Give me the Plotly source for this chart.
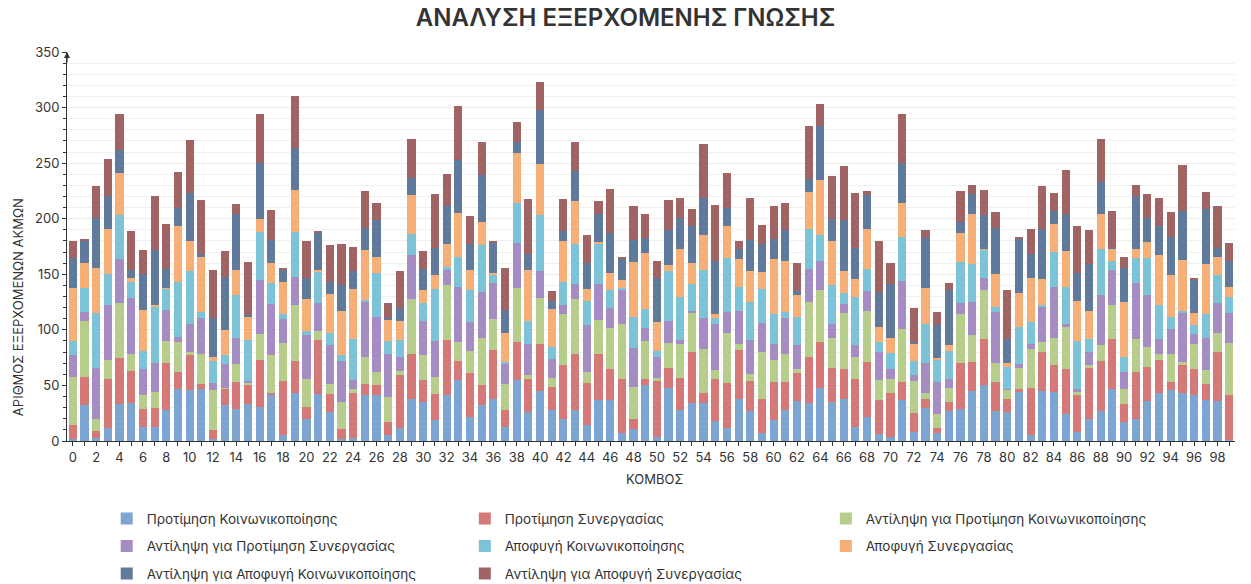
import plotly.graph_objects as go

nodes = list(range(100))
x_tick_labels = [str(i) if i % 2 == 0 else "" for i in nodes]

series_names = [
    "Προτίμηση Κοινωνικοποίησης",
    "Προτίμηση Συνεργασίας",
    "Αντίληψη για Προτίμηση Κοινωνικοποίησης",
    "Αντίληψη για Προτίμηση Συνεργασίας",
    "Αποφυγή Κοινωνικοποίησης",
    "Αποφυγή Συνεργασίας",
    "Αντίληψη για Αποφυγή Κοινωνικοποίησης",
    "Αντίληψη για Αποφυγή Συνεργασίας",
]

pref_social = [2,32,3,12,33,34,13,13,28,47,
               46,47,2,32,29,33,31,41,5,43,
               20,42,26,2,3,41,41,5,12,38,
               35,19,41,55,22,32,38,13,55,26,
               45,28,20,28,14,37,37,7,11,50,
               4,48,28,34,34,18,12,38,27,7,
               19,28,36,34,48,35,38,13,22,6,
               4,37,8,30,7,27,29,45,50,27,
               26,44,5,45,44,24,8,20,27,47,
               17,20,36,43,46,43,41,37,36,1]
pref_coop = [12,26,6,44,42,29,16,17,42,15,
             31,4,8,15,24,17,42,2,49,29,
             11,49,16,9,40,10,9,12,47,40,
             20,23,50,17,39,18,44,15,34,30,
             42,21,48,50,38,41,28,49,9,6,
             50,18,29,46,9,38,40,44,27,31,
             34,25,25,42,41,31,27,43,49,31,
             39,16,17,8,5,8,41,26,42,26,
             12,3,43,35,24,41,33,46,45,45,
             16,42,31,30,7,25,24,14,44,40]
perc_pref_social = [44,50,11,17,49,15,12,14,20,27,
                    3,27,36,1,16,2,23,34,34,50,
                    25,8,9,24,4,25,12,23,4,50,
                    22,16,49,17,20,43,28,23,49,3,
                    42,8,46,50,10,31,37,49,29,34,
                    3,22,30,35,40,8,45,5,6,42,
                    20,25,4,49,47,27,50,20,46,18,
                    13,48,29,5,12,13,44,24,44,17,
                    8,19,35,9,25,38,3,2,14,30,
                    14,30,18,5,25,3,22,13,17,47]
perc_pref_coop = [19,8,46,49,40,51,24,26,28,5,
                  25,33,6,21,24,2,49,46,22,26,
                  39,25,35,37,8,49,50,38,13,39,
                  31,32,14,50,26,41,32,18,40,28,
                  24,17,8,13,42,32,18,31,35,12,
                  19,20,4,2,28,41,19,30,31,26,
                  14,33,21,30,26,12,8,10,18,25,
                  9,43,5,27,29,8,10,30,11,46,
                  1,3,4,32,46,2,3,12,45,32,
                  15,50,46,14,23,44,9,29,27,27]
avoid_social = [13,22,49,28,39,14,16,51,19,49,
                48,5,20,8,38,37,43,19,4,40,
                4,28,11,5,37,2,39,12,15,19,
                16,47,3,27,29,42,7,2,36,21,
                50,11,21,36,22,36,16,2,28,17,
                5,45,39,24,43,6,49,22,34,31,
                27,5,26,36,23,35,10,44,20,9,
                14,40,13,35,20,25,37,34,25,5,
                20,34,20,1,31,34,43,12,42,8,
                14,23,34,30,11,2,8,21,25,15]
avoid_coop = [48,22,41,41,38,4,37,1,1,50,
              27,50,4,23,23,21,12,18,29,38,
              29,2,35,40,45,45,15,19,17,35,
              12,12,20,39,18,21,2,26,45,46,
              46,34,37,39,11,2,15,7,49,50,
              26,5,43,19,31,3,28,25,28,15,
              50,46,19,33,50,40,20,16,36,14,
              14,30,16,33,2,5,26,45,1,29,
              3,30,40,24,25,32,36,25,31,11,
              49,8,14,45,37,46,11,45,17,9]
perc_avoid_social = [27,20,45,29,21,7,32,50,17,17,
                     43,2,35,48,50,1,50,21,11,38,
                     19,34,11,23,16,20,33,2,12,16,
                     19,25,34,48,23,42,27,21,10,14,
                     49,7,9,27,23,25,36,19,20,14,
                     40,32,28,33,34,48,17,9,28,25,
                     18,28,4,12,48,20,46,28,30,31,
                     48,36,1,45,29,50,10,18,30,42,
                     22,49,21,45,12,33,25,42,29,1,
                     31,47,22,26,35,44,30,50,8,23]
perc_avoid_coop = [15,1,28,34,32,35,22,48,40,32,
                   48,49,43,23,9,48,44,27,2,46,
                   33,1,33,37,22,33,15,13,33,35,
                   16,48,29,48,25,30,2,38,18,50,
                   25,9,29,26,25,12,40,2,30,21,
                   15,27,18,16,48,50,31,7,38,17,
                   29,24,25,47,20,38,48,49,4,46,
                   19,44,31,7,12,6,28,8,23,14,
                   44,2,23,38,16,40,42,31,39,33,
                   10,10,21,26,22,41,1,15,37,16]

all_series = [pref_social, pref_coop, perc_pref_social, perc_pref_coop,
              avoid_social, avoid_coop, perc_avoid_social, perc_avoid_coop]
colors = ["#7da5d2", "#d47878", "#b6cd8c", "#a58cc3",
          "#7dc3d7", "#f7af78", "#5f7a9b", "#a06464"]
legend_cols = ["legend", "legend2", "legend3",
               "legend", "legend2", "legend3",
               "legend", "legend2"]

FONT = "Inter, 'Open Sans', sans-serif"

fig = go.Figure()
for i, (name, vals) in enumerate(zip(series_names, all_series)):
    fig.add_trace(go.Bar(
        x=nodes, y=vals, name=name,
        marker=dict(color=colors[i], line=dict(width=0)),
        legend=legend_cols[i], legendgroup=f"g{i}",
    ))

leg_common = dict(orientation="v", yanchor="top", y=-0.16, xanchor="left",
                  font=dict(family=FONT, size=13.5, color="#333"),
                  bgcolor="rgba(0,0,0,0)", tracegroupgap=7, itemwidth=30)

fig.update_layout(
    width=1251, height=584,
    barmode="stack", bargap=0.3,
    paper_bgcolor="white", plot_bgcolor="white",
    margin=dict(l=67, r=16, t=52, b=143, autoexpand=False),
    font=dict(family=FONT, size=13, color="#333"),
    title=dict(text="ΑΝΑΛΥΣΗ ΕΞΕΡΧΟΜΕΝΗΣ ΓΝΩΣΗΣ", x=0.5, xanchor="center",
               y=0.97, yanchor="middle", yref="container",
               font=dict(family=FONT, size=24, color="#333", weight=600)),
    xaxis=dict(range=[-0.5, 99.5], tickmode="array", tickvals=nodes,
               ticktext=x_tick_labels, ticks="outside", ticklen=4,
               tickcolor="#333", showline=True, linecolor="#333", linewidth=1,
               showgrid=False, zeroline=False, tickangle=0,
               tickfont=dict(size=13, color="#333")),
    yaxis=dict(range=[0, 350], dtick=50, showline=True, linecolor="#333",
               linewidth=1, ticks="outside", ticklen=4, tickcolor="#333",
               gridcolor="#ececec", zeroline=False,
               minor=dict(dtick=10, showgrid=True, gridcolor="#f0f0f0",
                          ticks="outside", ticklen=3, tickcolor="#333"),
               tickfont=dict(size=13, color="#333")),
    legend=dict(x=0.034, **leg_common),
    legend2=dict(x=0.3406, **leg_common),
    legend3=dict(x=0.6497, **leg_common),
    showlegend=True,
)

fig.add_annotation(xref="paper", yref="paper", x=0.5034, y=-0.0977,
                   xanchor="center", yanchor="middle",
                   text="ΚΟΜΒΟΣ", showarrow=False,
                   font=dict(family=FONT, size=13, color="#333"))
fig.add_annotation(xref="paper", yref="paper", x=-0.042, y=0.344,
                   xanchor="center", yanchor="middle",
                   text="ΑΡΙΘΜΟΣ ΕΞΕΡΧΟΜΕΝΩΝ ΑΚΜΩΝ", textangle=-90,
                   showarrow=False,
                   font=dict(family=FONT, size=13, color="#333"))
fig.add_annotation(xref="paper", yref="y", x=0, y=350, text="",
                   showarrow=True, ax=0, ay=12, arrowhead=2, arrowsize=1,
                   arrowwidth=1.2, arrowcolor="#333")

fig.write_html("out.html", config={"displayModeBar": False},
               post_script="document.body.style.margin='0px';")
